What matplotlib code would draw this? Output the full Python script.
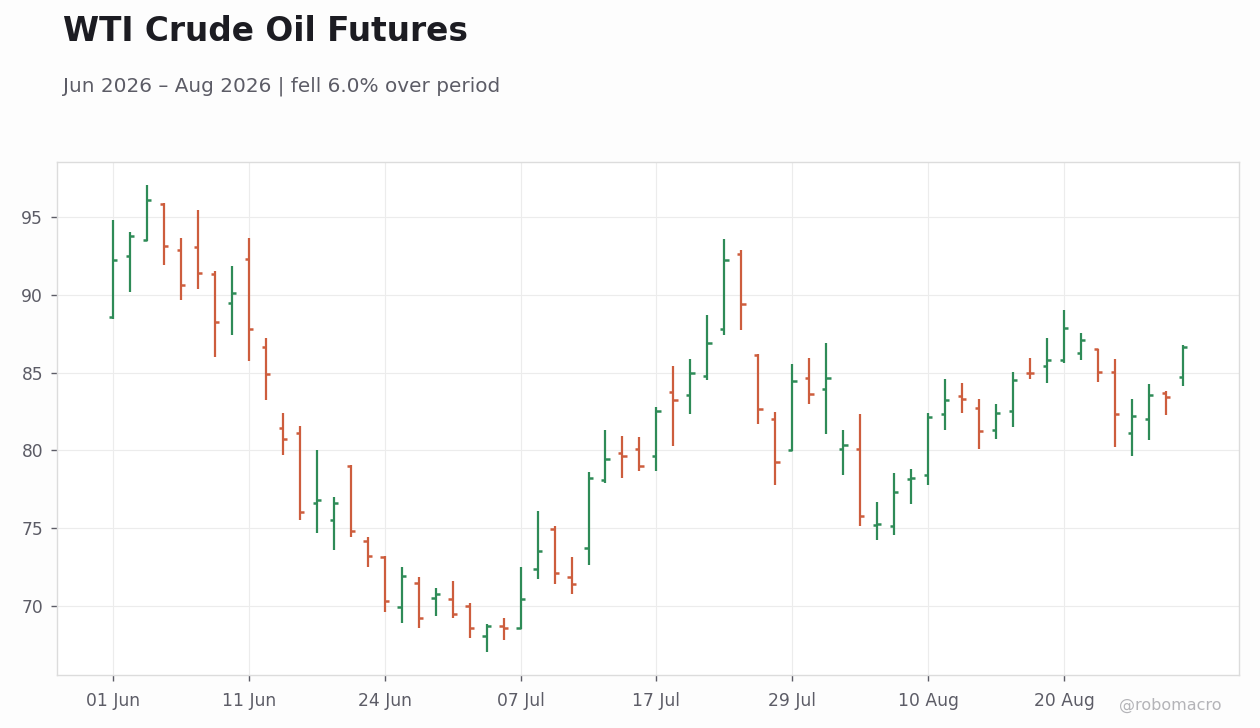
import numpy as np
import pandas as pd
import matplotlib
matplotlib.use('Agg')
import matplotlib.pyplot as plt

plt.rcParams['font.family'] = ['DejaVu Sans']

# trading days (US holidays 19 Jun and 03 Jul skipped)
dates = pd.bdate_range('2026-06-01', '2026-08-31', freq='C',
                       holidays=['2026-06-19', '2026-07-03'])

opens = [88.54, 92.47, 93.50, 95.82, 92.85, 93.05, 91.31, 89.44, 92.27, 86.67,
         81.46, 81.14, 76.61, 75.56, 78.97, 74.21, 73.18, 69.96, 71.50, 70.54,
         70.47, 70.02, 68.09, 68.73, 68.61, 72.40, 74.96, 71.87, 73.76, 78.07,
         79.81, 80.06, 79.61, 83.78, 83.54, 84.76, 87.79, 92.64, 86.16, 82.02,
         80.03, 84.66, 83.95, 80.10, 80.12, 75.20, 75.15, 78.14, 78.43, 82.34,
         83.50, 82.73, 81.32, 82.54, 85.00, 85.43, 85.81, 86.26, 86.52, 85.04,
         81.13, 82.03, 83.70, 84.72]
highs = [94.83, 94.06, 97.02, 95.92, 93.67, 95.47, 91.55, 91.87, 93.67, 87.23,
         82.40, 81.57, 80.02, 77.02, 79.03, 74.42, 73.22, 72.51, 71.87, 71.16,
         71.61, 70.19, 68.84, 69.23, 72.51, 76.12, 75.15, 73.15, 78.63, 81.33,
         80.94, 80.88, 82.81, 85.45, 85.84, 88.67, 93.56, 92.85, 86.20, 82.45,
         85.54, 85.92, 86.88, 81.30, 82.32, 76.67, 78.53, 78.79, 82.39, 84.57,
         84.31, 83.29, 82.97, 85.02, 85.92, 87.20, 89.00, 87.52, 86.54, 85.85,
         83.29, 84.25, 83.80, 86.75]
lows = [88.45, 90.15, 93.43, 91.93, 89.68, 90.39, 85.97, 87.43, 85.75, 83.24,
        79.70, 75.52, 74.69, 73.63, 74.46, 72.53, 69.64, 68.93, 68.61, 69.38,
        69.25, 67.96, 67.06, 67.81, 68.54, 71.76, 71.44, 70.79, 72.66, 77.88,
        78.24, 78.65, 78.65, 80.30, 82.32, 84.51, 87.40, 87.73, 81.67, 77.76,
        79.97, 82.99, 81.06, 78.43, 75.15, 74.23, 74.57, 76.56, 77.78, 81.34,
        82.41, 80.10, 80.75, 81.52, 84.59, 84.34, 85.62, 85.81, 84.40, 80.24,
        79.66, 80.68, 82.29, 84.15]
closes = [92.21, 93.80, 96.07, 93.11, 90.60, 91.37, 88.22, 90.09, 87.77, 84.91,
          80.75, 76.05, 76.82, 76.65, 74.85, 73.24, 70.32, 71.95, 69.25, 70.79,
          69.51, 68.61, 68.73, 68.61, 70.47, 73.56, 72.15, 71.44, 78.20, 79.42,
          79.66, 78.97, 82.55, 83.26, 84.96, 86.89, 92.23, 89.40, 82.64, 79.26,
          84.46, 83.63, 84.66, 80.35, 75.79, 75.25, 77.31, 78.20, 82.15, 83.24,
          83.31, 81.25, 82.41, 84.53, 84.95, 85.81, 87.86, 87.09, 85.04, 82.35,
          82.20, 83.57, 83.44, 86.65]

df = pd.DataFrame({'Date': dates, 'Open': opens, 'High': highs,
                   'Low': lows, 'Close': closes})

up_color = '#2e8b57'
down_color = '#cd5d3d'
text_dark = '#1c1c22'
text_grey = '#5c5c66'

x = np.arange(len(df))
colors = np.where(df['Close'] >= df['Open'], up_color, down_color)
pct = (df['Close'].iloc[-1] / df['Close'].iloc[0] - 1) * 100

fig = plt.figure(figsize=(12.6, 7.28), dpi=100)
fig.patch.set_facecolor('#fdfdfd')
ax = fig.add_axes([0.0452, 0.0728, 0.9381, 0.7047])
ax.set_facecolor('white')

# OHLC bars
tick_w = 0.25
ax.vlines(x, df['Low'], df['High'], colors=colors, linewidth=1.6, zorder=3)
ax.hlines(df['Open'], x - tick_w, x, colors=colors, linewidth=1.8, zorder=3)
ax.hlines(df['Close'], x, x + tick_w, colors=colors, linewidth=1.8, zorder=3)

ax.set_xlim(-3.3, len(df) + 2.3)
ax.set_ylim(65.57, 98.53)

ticks = x[::8]
ax.set_xticks(ticks)
ax.set_xticklabels([d.strftime('%d %b') for d in df['Date'].iloc[::8]])
ax.set_yticks([70, 75, 80, 85, 90, 95])

ax.grid(True, color='#ececec', linewidth=0.8, zorder=0)
for s in ax.spines.values():
    s.set_color('#dcdcdc')
    s.set_linewidth(1.0)
ax.tick_params(colors=text_grey, labelsize=12.3, length=4, width=1)
ax.tick_params(axis='x', pad=8)
ax.tick_params(axis='y', pad=6)

fig.text(0.05, 0.979, 'WTI Crude Oil Futures', fontsize=23.6, fontweight='bold',
         color=text_dark, ha='left', va='top')
fig.text(0.05, 0.882, 'Jun 2026 \u2013 Aug 2026 | fell %.1f%% over period' % abs(pct),
         fontsize=14.4, color=text_grey, ha='left', va='center')
fig.text(0.929, 0.031, '@robomacro', fontsize=11.5, color='#b4b4b8',
         ha='center', va='center')

fig.savefig('out.png', dpi=100, facecolor=fig.get_facecolor())
